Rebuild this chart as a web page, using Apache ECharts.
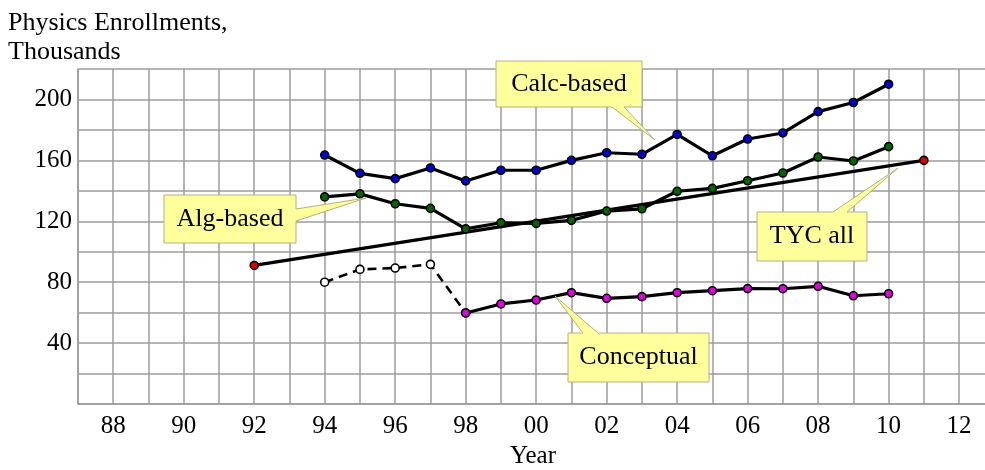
<!DOCTYPE html>
<html>
<head>
<meta charset="utf-8">
<script src="https://cdn.jsdelivr.net/npm/echarts@6/dist/echarts.min.js"></script>
<style>
html,body{margin:0;padding:0;background:#fff;}
#chart{width:985px;height:470px;}
</style>
</head>
<body>
<div id="chart"></div>
<script>
// ---- data ----
const calcYears   = [1994,1995,1996,1997,1998,1999,2000,2001,2002,2003,2004,2005,2006,2007,2008,2009,2010];
const calcValues  = [163.5,151.5,148,155,146.5,153.5,153.5,160,165,164,177,163,174,178,192,198,210];
const algYears    = [1994,1995,1996,1997,1998,1999,2000,2001,2002,2003,2004,2005,2006,2007,2008,2009,2010];
const algValues   = [136,138,131.5,128.5,115,119,118.6,120.6,126.7,128.2,139.7,141.6,146.6,151.7,162.2,159.6,169];
const tycYears    = [1992,2011];
const tycValues   = [91,160];
const conceptualPreYears  = [1994,1995,1996,1997,1998];
const conceptualPreValues = [80,88.4,89.3,91.7,59.8];
const conceptualYears  = [1998,1999,2000,2001,2002,2003,2004,2005,2006,2007,2008,2009,2010];
const conceptualValues = [59.8,65.7,68.3,73.1,69.4,70.5,73.1,74.4,75.8,75.7,77.3,71.1,72.4];
const yTickLabels = [40,80,120,160,200];
const xLabelStep = 2;

const titleText = 'Physics Enrollments,\nThousands';
const xAxisName = 'Year';
const callouts = [
  {text:'Calc-based', box:[496,61,642,107], ptr:[[612,107],[655,140],[624,107]]},
  {text:'Alg-based',  box:[164,195,296,243], ptr:[[296,209],[366,198],[296,221]]},
  {text:'TYC all',    box:[757,212,867,261], ptr:[[833,212],[898,168],[847,212]]},
  {text:'Conceptual', box:[568,333,709,382], ptr:[[583,333],[555,296],[598,333]]}
];

function zip(xs, ys){ return xs.map((x,i)=>[x, ys[i]]); }

const FONT = '"Liberation Serif", "Times New Roman", serif';
const gridColor = '#9c9c9c';

function calloutGraphic(c){
  const [x0,y0,x1,y1] = c.box;
  let pts;
  const p = c.ptr;
  if (p[0][1] === y1 && p[2][1] === y1) {
    pts = [[x0,y0],[x1,y0],[x1,y1],p[2],p[1],p[0],[x0,y1]];
  } else if (p[0][1] === y0 && p[2][1] === y0) {
    pts = [[x0,y0],p[0],p[1],p[2],[x1,y0],[x1,y1],[x0,y1]];
  } else {
    pts = [[x0,y0],[x1,y0],p[0],p[1],p[2],[x1,y1],[x0,y1]];
  }
  return [
    {type:'polygon', shape:{points:pts}, style:{fill:'#ffff9c', stroke:'#b3b086', lineWidth:1}, z:50},
    {type:'text', x:(x0+x1)/2, y:(y0+y1)/2, style:{text:c.text, font:'26px '+FONT, fill:'#000', align:'center', verticalAlign:'middle'}, z:51}
  ];
}

const markerBase = {borderColor:'#000', borderWidth:1.6};
const lineBase = {color:'#000', width:3.2};

const chart = echarts.init(document.getElementById('chart'), null, {renderer:'canvas'});
chart.setOption({
  animation:false,
  backgroundColor:'#fff',
  grid:{left:78, right:-3, top:69, bottom:66, containLabel:false, outerBoundsMode:'none'},
  xAxis:{
    type:'value', min:1987, max:2012.82, interval:1,
    axisLine:{show:true, lineStyle:{color:gridColor, width:1.5}},
    axisTick:{show:false},
    splitLine:{show:true, lineStyle:{color:gridColor, width:1.5}},
    axisLabel:{
      color:'#000', fontFamily:FONT, fontSize:25, margin:10,
      showMinLabel:true, showMaxLabel:true,
      formatter:function(v){
        if (Math.abs(v-Math.round(v))>1e-6) return '';
        v = Math.round(v);
        if ((v % xLabelStep) !== 0) return '';
        return String(v % 100).padStart(2,'0');
      }
    },
    name:xAxisName, nameLocation:'middle', nameGap:40,
    nameTextStyle:{color:'#000', fontFamily:FONT, fontSize:25}
  },
  yAxis:{
    type:'value', min:0, max:220, interval:20,
    axisLine:{show:true, lineStyle:{color:gridColor, width:1.5}},
    axisTick:{show:false},
    splitLine:{show:true, lineStyle:{color:gridColor, width:1.5}},
    axisLabel:{
      color:'#000', fontFamily:FONT, fontSize:25, margin:6,
      formatter:function(v){ return yTickLabels.indexOf(v) >= 0 ? String(v) : ''; }
    }
  },
  series:[
    {type:'line', name:'TYC all', data:zip(tycYears,tycValues), symbol:'circle', symbolSize:8,
     lineStyle:lineBase, itemStyle:Object.assign({color:'#e00000'},markerBase), z:2},
    {type:'line', name:'Alg-based', data:zip(algYears,algValues), symbol:'circle', symbolSize:8,
     lineStyle:lineBase, itemStyle:Object.assign({color:'#006400'},markerBase), z:3},
    {type:'line', name:'Calc-based', data:zip(calcYears,calcValues), symbol:'circle', symbolSize:8,
     lineStyle:lineBase, itemStyle:Object.assign({color:'#0000d0'},markerBase), z:3},
    {type:'line', name:'Conceptual (early)', data:zip(conceptualPreYears,conceptualPreValues), symbol:'circle', symbolSize:8,
     lineStyle:{color:'#000', width:2.6, type:[9,6]}, itemStyle:Object.assign({color:'#fff'},markerBase), z:3},
    {type:'line', name:'Conceptual', data:zip(conceptualYears,conceptualValues), symbol:'circle', symbolSize:8,
     lineStyle:lineBase, itemStyle:Object.assign({color:'#e000e0'},markerBase), z:4}
  ],
  graphic:[
    {type:'text', left:8, top:9, style:{text:titleText, font:'26px '+FONT, fill:'#000', lineHeight:29}}
  ].concat(...callouts.map(calloutGraphic))
});
</script>
</body>
</html>
